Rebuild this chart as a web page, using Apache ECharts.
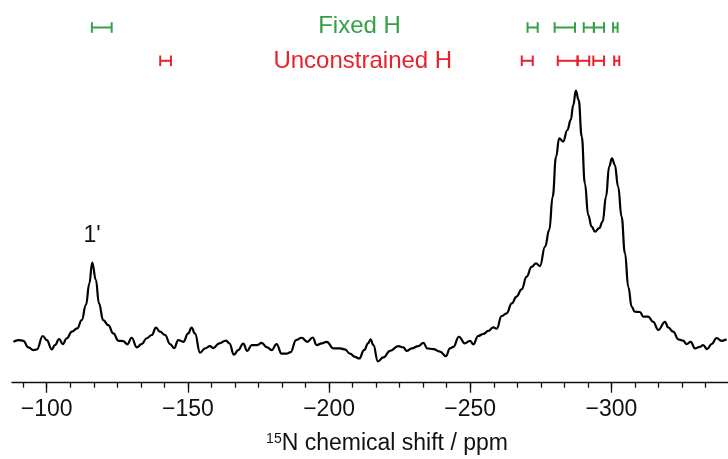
<!DOCTYPE html>
<html>
<head>
<meta charset="utf-8">
<script src="https://cdn.jsdelivr.net/npm/echarts@6/dist/echarts.min.js"></script>
<style>
html,body{margin:0;padding:0;background:#fff;}
#chart{width:728px;height:459px;}
</style>
</head>
<body>
<div id="chart"></div>
<script>
// 15N chemical shift (ppm) of the spectrum trace
const ppm = [-88.2,-89.9,-91.7,-93.5,-95.3,-96.5,-98.6,-100.0,-101.8,-102.9,-104.4,-105.7,-107.1,-108.9,-110.8,-112.4,-113.9,-115.1,-116.1,-117.4,-118.5,-120.0,-121.8,-123.6,-125.4,-127.1,-128.5,-130.1,-131.9,-133.6,-135.4,-137.2,-138.7,-140.1,-141.9,-143.7,-145.1,-146.6,-148.4,-150.1,-151.3,-152.5,-154.3,-156.1,-157.8,-159.0,-161.1,-163.5,-164.7,-166.3,-167.8,-169.6,-171.0,-172.6,-174.6,-176.1,-177.9,-179.7,-181.4,-183.2,-185.0,-186.4,-188.3,-190.3,-192.3,-194.2,-195.6,-197.4,-199.2,-201.5,-203.9,-205.6,-207.4,-209.2,-210.7,-212.4,-213.9,-214.7,-215.7,-217.3,-219.2,-221.6,-224.5,-226.3,-227.5,-229.3,-231.6,-233.4,-234.8,-236.9,-239.3,-241.4,-242.8,-244.0,-246.0,-248.1,-249.9,-251.1,-252.8,-254.6,-256.4,-258.2,-259.4,-261.1,-262.9,-264.7,-266.4,-268.2,-270.0,-271.7,-273.3,-274.7,-276.5,-278.0,-279.2,-280.4,-281.5,-282.9,-284.4,-285.6,-286.5,-287.4,-288.4,-289.5,-290.6,-291.8,-293.0,-294.2,-295.7,-296.9,-298.1,-299.2,-300.2,-301.2,-302.4,-303.6,-304.8,-306.0,-307.2,-308.3,-310.1,-311.3,-313.0,-314.8,-316.6,-319.0,-320.1,-321.9,-323.7,-325.4,-326.6,-328.1,-329.6,-331.3,-332.5,-333.9,-335.5,-337.3,-339.0,-340.8];
// intensity (arbitrary units, main peak = 100)
const intensity = [0.5,1.2,0.9,-1.7,-2.8,-2.5,2.8,1.2,-2.5,-0.8,1.6,-0.4,1.9,4.5,5.8,9.1,15.1,23.7,31.9,25.0,15.7,9.1,7.1,3.8,0.9,0.8,-0.5,2.1,-1.7,-0.4,1.9,3.2,6.1,4.5,3.2,-0.4,-2.0,1.2,0.5,3.8,6.1,3.8,-3.8,-2.1,-1.2,-2.0,-0.1,1.0,-0.1,-4.6,-2.8,-0.2,-3.1,-0.8,-0.8,0.1,-1.6,-2.8,-0.4,-4.2,-4.2,-3.6,1.2,2.1,0.5,2.2,-0.8,-0.1,0.5,-2.1,-2.1,-2.5,-4.2,-5.5,-6.1,-2.8,0.0,1.5,-0.8,-7.3,-5.7,-3.1,-1.2,-1.7,-3.1,-2.1,-1.2,0.1,-2.1,-2.4,-3.4,-5.2,-2.1,-1.5,2.5,-0.1,0.9,-0.5,2.8,3.6,4.8,6.2,5.7,10.7,11.8,15.7,18.4,21.3,26.3,30.2,31.6,30.5,38.2,44.8,58.0,73.8,81.1,79.8,84.4,88.4,94.3,100.0,96.3,81.8,63.3,50.7,46.1,44.1,45.5,48.1,58.0,69.9,73.2,70.6,61.9,50.1,35.6,22.2,14.3,12.4,12.3,10.5,10.5,8.4,5.2,8.4,6.2,4.5,1.5,1.0,-0.4,0.5,-2.1,-1.5,-0.8,-2.4,-0.4,2.0,0.9,1.5];

// error bars (centre and half-width, ppm)
const fixedHCenters = [-119.5,-272.1,-283.5,-292.0,-295.6,-301.4];
const fixedHHalfWidths = [3.5,1.8,3.6,1.8,1.8,0.8];
const unconstrainedHCenters = [-142.1,-270.2,-284.5,-290.1,-295.5,-301.9];
const unconstrainedHHalfWidths = [1.9,1.95,3.5,2.05,1.9,0.9];

// axis ticks
const majorTicks = [-100,-150,-200,-250,-300];
const xMin = -341.3, xMax = -87.7;

const minorTicks = [];
for (let k = -30; k <= 2; k++) {
  const v = -100 + k * 50 / 6;
  if (v >= xMin && v <= xMax) minorTicks.push(+v.toFixed(3));
}

const GREEN = '#34a047';
const RED = '#e8222c';
const FONT = 'Liberation Sans, Arial, sans-serif';

function errBarSeries(centers, halves, color, rowY) {
  return {
    type: 'custom',
    xAxisIndex: 0, yAxisIndex: 0,
    silent: true,
    data: centers.map((c, i) => [c, halves[i]]),
    renderItem: function (params, api) {
      const c = api.value(0), h = api.value(1);
      const xa = api.coord([c - h, 0])[0];
      const xb = api.coord([c + h, 0])[0];
      const x1 = Math.min(xa, xb), x2 = Math.max(xa, xb);
      const st = { stroke: color, lineWidth: 2 };
      return {
        type: 'group',
        children: [
          { type: 'line', shape: { x1: x1, y1: rowY, x2: x2, y2: rowY }, style: st },
          { type: 'line', shape: { x1: x1, y1: rowY - 5.3, x2: x1, y2: rowY + 5.3 }, style: st },
          { type: 'line', shape: { x1: x2, y1: rowY - 5.3, x2: x2, y2: rowY + 5.3 }, style: st }
        ]
      };
    }
  };
}

const chart = echarts.init(document.getElementById('chart'), null, { renderer: 'canvas' });
chart.setOption({
  animation: false,
  backgroundColor: '#fff',
  grid: { left: 12, right: 0, top: 0, bottom: 76.3, containLabel: false },
  xAxis: [{
    type: 'value', min: xMin, max: xMax, inverse: true, position: 'bottom',
    axisLine: { show: true, onZero: false, lineStyle: { color: '#111', width: 1.3 } },
    axisTick: { show: true, customValues: majorTicks, length: 10, lineStyle: { color: '#111', width: 1.3 } },
    axisLabel: {
      customValues: majorTicks,
      formatter: v => String(v).replace('-', '\u2212'),
      fontSize: 23, color: '#111', fontFamily: FONT, margin: 15
    },
    splitLine: { show: false }
  }, {
    type: 'value', min: xMin, max: xMax, inverse: true, position: 'bottom',
    axisLine: { show: false, onZero: false },
    axisTick: { show: true, customValues: minorTicks, length: 5, lineStyle: { color: '#111', width: 1.3 } },
    axisLabel: { show: false, customValues: minorTicks },
    splitLine: { show: false }
  }],
  yAxis: { type: 'value', min: -15.7, max: 135.9, show: false, splitLine: { show: false } },
  series: [{
    type: 'line',
    xAxisIndex: 0,
    data: ppm.map((p, i) => [p, intensity[i]]),
    showSymbol: false,
    smooth: 0.45,
    smoothMonotone: 'x',
    lineStyle: { color: '#000', width: 2.2 },
    silent: true
  },
  errBarSeries(fixedHCenters, fixedHHalfWidths, GREEN, 27.5),
  errBarSeries(unconstrainedHCenters, unconstrainedHHalfWidths, RED, 60.8)
  ],
  graphic: [
    { type: 'text', x: 359.5, y: 26.5, style: { text: 'Fixed H', fill: GREEN, font: '24px ' + FONT, textAlign: 'center', textVerticalAlign: 'middle' } },
    { type: 'text', x: 362.8, y: 61.5, style: { text: 'Unconstrained H', fill: RED, font: '24px ' + FONT, textAlign: 'center', textVerticalAlign: 'middle' } },
    { type: 'text', x: 92, y: 236, style: { text: "1'", fill: '#111', font: '23px ' + FONT, textAlign: 'center', textVerticalAlign: 'middle' } },
    { type: 'text', x: 387, y: 444, style: {
        text: '{sup|15}{n|N chemical shift / ppm}',
        textAlign: 'center', textVerticalAlign: 'middle',
        rich: {
          sup: { fontSize: 14, fontFamily: FONT, fill: '#111', verticalAlign: 'top', padding: [0, 0, 9, 0] },
          n: { fontSize: 23, fontFamily: FONT, fill: '#111' }
        }
      } }
  ]
});
</script>
</body>
</html>
